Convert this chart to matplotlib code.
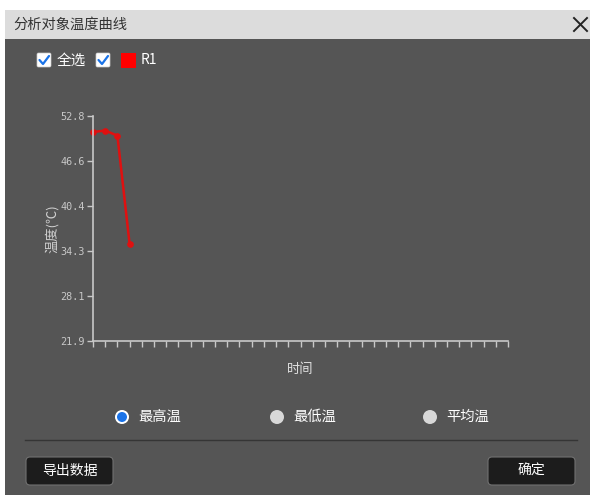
import matplotlib
matplotlib.use("Agg")
import matplotlib.pyplot as plt
from matplotlib.patches import Rectangle, FancyBboxPatch, Circle

plt.rcParams['font.family'] = ['Noto Sans CJK SC', 'DejaVu Sans']

# 数据
time_idx = [0, 1, 2, 3]
r1_temp = [50.6, 50.8, 50.1, 35.2]
y_ticks = [21.9, 28.1, 34.3, 40.4, 46.6, 52.8]
x_tick_count = 35
title_text = "分析对象温度曲线"
radio_labels = ["最高温", "最低温", "平均温"]

W, H = 590, 495
fig = plt.figure(figsize=(W / 100, H / 100), dpi=100)
fig.patch.set_facecolor("white")

# 背景层，像素坐标（左上为原点）
bg = fig.add_axes([0, 0, 1, 1])
bg.set_xlim(0, W)
bg.set_ylim(H, 0)
bg.axis("off")

# 标题栏
bg.add_patch(Rectangle((5, 10), W - 5, 29, facecolor="#dcdcdc", edgecolor="none"))
bg.text(13, 24.5, title_text, fontsize=10.3, color="#333333", va="center", ha="left")
bg.plot([574, 587], [18, 31], color="#222222", lw=1.4)
bg.plot([574, 587], [31, 18], color="#222222", lw=1.4)

# 主面板
bg.add_patch(Rectangle((5, 39), W - 5, H - 39, facecolor="#555555", edgecolor="none"))


def checkbox(x, y):
    bg.add_patch(FancyBboxPatch((x, y), 14, 14, boxstyle="round,pad=0,rounding_size=1.5",
                                facecolor="white", edgecolor="#cccccc", lw=0.5))
    bg.plot([x + 2.5, x + 6, x + 12], [y + 7, y + 11, y + 3], color="#1a73e8", lw=1.6,
            solid_capstyle="round")


checkbox(37, 53)
bg.text(57, 60.5, "全选", fontsize=10.5, color="white", va="center", ha="left")
checkbox(96, 53)
bg.add_patch(Rectangle((121, 53), 15, 15, facecolor="#ff0000", edgecolor="none"))
bg.text(141, 60.5, "R1", fontsize=10, color="white", va="center", ha="left")

# 单选按钮
radio_x = [122, 277, 430]
for i, (rx, lab) in enumerate(zip(radio_x, radio_labels)):
    if i == 0:
        bg.add_patch(Circle((rx, 417), 7, facecolor="white", edgecolor="none"))
        bg.add_patch(Circle((rx, 417), 5, facecolor="#1a73e8", edgecolor="none"))
    else:
        bg.add_patch(Circle((rx, 417), 7, facecolor="#d8d8d8", edgecolor="none"))
    bg.text(rx + 16, 417, lab, fontsize=10.3, color="white", va="center", ha="left")

# 分隔线
bg.plot([25, 577], [440, 440], color="#353535", lw=1)

# 按钮
for bx, lab in [(26, "导出数据"), (488, "确定")]:
    bg.add_patch(FancyBboxPatch((bx, 457), 87, 28, boxstyle="round,pad=0,rounding_size=4",
                                facecolor="#1c1c1c", edgecolor="#707070", lw=0.8))
    bg.text(bx + 43.5, 471, lab, fontsize=10, color="white", va="center", ha="center")

# 曲线图
left, right, top, bottom = 93, 508, 116, 341
ax = fig.add_axes([left / W, 1 - bottom / H, (right - left) / W, (bottom - top) / H])
ax.set_facecolor("none")
ax.plot(time_idx, r1_temp, color="#e01010", lw=1.8, marker="o", markersize=3.8,
        clip_on=False)
ax.set_xlim(0, x_tick_count - 1)
ax.set_ylim(y_ticks[0], y_ticks[-1])
ax.set_xticks(range(x_tick_count))
ax.set_xticklabels([])
ax.set_yticks(y_ticks)
ax.set_yticklabels([f"{v:.1f}" for v in y_ticks], family="DejaVu Sans Mono", fontsize=7.3,
                   color="#d4d4d4")
for s in ["top", "right"]:
    ax.spines[s].set_visible(False)
for s in ["left", "bottom"]:
    ax.spines[s].set_color("#c8c8c8")
    ax.spines[s].set_linewidth(1.2)
ax.tick_params(axis="both", colors="#c8c8c8", length=4, width=1, pad=2)
ax.set_xlabel("时间", fontsize=9.5, color="#e0e0e0", labelpad=10)
ax.set_ylabel("温度(℃)", fontsize=9.5, color="#d0d0d0", labelpad=1)

fig.savefig("out.png", dpi=100, facecolor=fig.get_facecolor())
